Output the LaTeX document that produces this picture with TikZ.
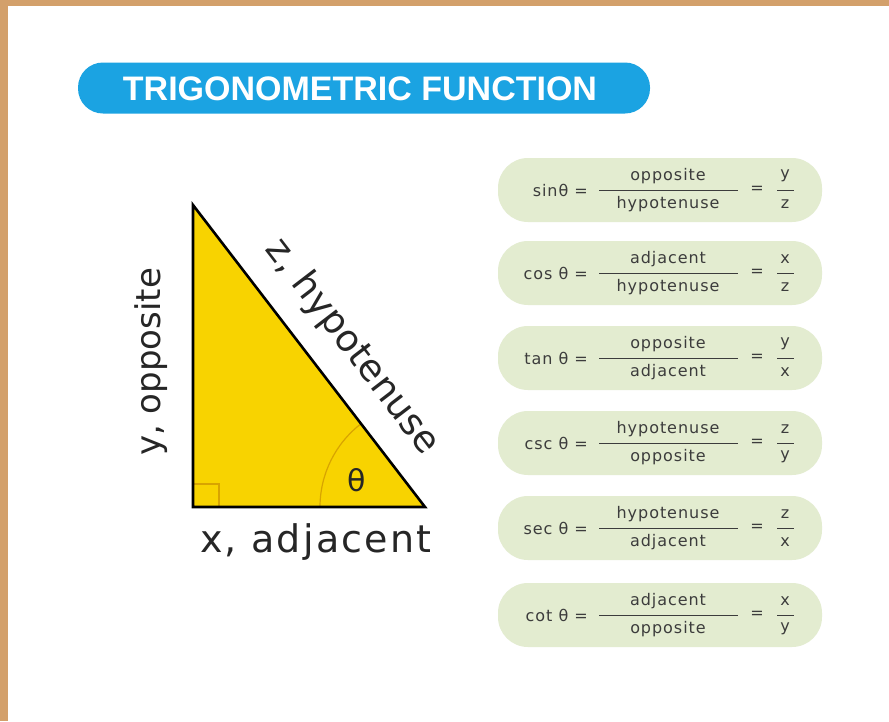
\documentclass[tikz,border=0pt]{standalone}
\usepackage{fontspec}
\setmainfont{DejaVu Sans}
\newfontfamily\titlefont{Liberation Sans}
\definecolor{bord}{HTML}{D3A06B}
\definecolor{pillblue}{HTML}{1BA3E2}
\definecolor{tri}{HTML}{F8D300}
\definecolor{arccol}{HTML}{D8A400}
\definecolor{gpillc}{HTML}{E3ECD0}
\definecolor{ink}{HTML}{262626}
\definecolor{fink}{HTML}{3C3C3C}
\tikzset{
  titlepill/.style={fill=pillblue, rounded corners=25pt, minimum width=572pt, minimum height=51pt, inner sep=0pt},
  gpill/.style={fill=gpillc, rounded corners=30pt, minimum width=324pt, minimum height=64pt, inner sep=0pt},
  ftext/.style={text=fink, inner sep=0pt, font=\fontsize{16}{18}\selectfont\addfontfeature{LetterSpace=6}},
  big/.style={text=ink, inner sep=0pt, font=\fontsize{37}{40}\selectfont},
}
\begin{document}
\begin{tikzpicture}[x=1pt,y=-1pt]
\fill[bord] (0,0) rectangle (889,721);
\fill[white] (8,6) rectangle (889,721);
\useasboundingbox (0,0) rectangle (889,721);
% title
\node[titlepill] (title) at (364,88) {};
\node[text=white, inner sep=0pt, font=\titlefont\bfseries\fontsize{34}{36}\selectfont] (titletext) at (360,89) {TRIGONOMETRIC FUNCTION};
% triangle
\coordinate (A) at (193,205);
\coordinate (B) at (193,507);
\coordinate (C) at (425,507);
\fill[tri] (A) -- (B) -- (C) -- cycle;
\draw[arccol, line width=1.2pt] (193,484) -- (219,484) -- (219,507);
\draw[arccol, line width=1.2pt] (320,507) arc[start angle=180, end angle=232.5, radius=105];
\draw[black, line width=2.6pt, line join=miter] (A) -- (B) -- (C) -- cycle;
\node[big, font=\fontsize{30}{32}\selectfont] (theta) at (357,480) {θ};
\node[big, rotate=90, font=\fontsize{34}{36}\selectfont] (opp) at (151,362) {y, opposite};
\node[big, rotate=-52.5] (hyp) at (352,347) {z, hypotenuse};
\node[big, font=\fontsize{38}{40}\selectfont\addfontfeature{LetterSpace=6}, anchor=base] (adj) at (316,552) {x, adjacent};
% formulas
\foreach \i/\fn/\num/\den/\a/\b/\cy in {
  1/sinθ/opposite/hypotenuse/y/z/190,
  2/cos θ/adjacent/hypotenuse/x/z/273,
  3/tan θ/opposite/adjacent/y/x/358,
  4/csc θ/hypotenuse/opposite/z/y/443,
  5/sec θ/hypotenuse/adjacent/z/x/528,
  6/cot θ/adjacent/opposite/x/y/615}{
  \node[gpill] (p\i) at (660,\cy) {};
  \node[ftext, anchor=east] (f\i) at (588,\cy) {\fn\ =};
  \node[ftext] (n\i) at (668,\cy-14) {\num};
  \node[ftext] (d\i) at (668,\cy+14) {\den};
  \draw[fink, line width=1pt] (599,\cy) -- (738,\cy);
  \node[ftext] (e\i) at (757,\cy) {=};
  \node[ftext] (a\i) at (785,\cy-14) {\a};
  \node[ftext] (b\i) at (785,\cy+14) {\b};
  \draw[fink, line width=1pt] (777,\cy) -- (794,\cy);
}
\end{tikzpicture}
\end{document}
